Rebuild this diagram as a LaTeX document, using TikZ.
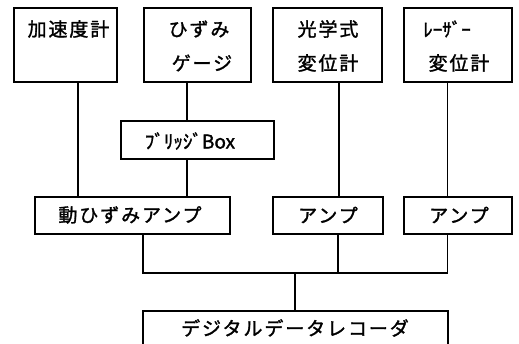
\documentclass[tikz,border=0pt]{standalone}
\usepackage{fontspec}
\newfontfamily\jp{Noto Sans CJK JP}[LetterSpace=10,FakeBold=1.5]
\newfontfamily\jpn{Noto Sans CJK JP}[FakeBold=1.5]
\begin{document}
\begin{tikzpicture}[x=1pt,y=-1pt,
  box/.style={draw,line width=1.2pt,rectangle,inner sep=0pt},
  lbl/.style={font=\fontsize{19}{19}\selectfont\jp,inner sep=0pt,anchor=center},
  lbln/.style={font=\fontsize{19}{19}\selectfont\jpn,inner sep=0pt,anchor=center},
  wire/.style={line width=1.2pt}]
\useasboundingbox (0,0) rectangle (519,344);
\clip (0,0) rectangle (519,344);
% boxes
\node[box,minimum width=103pt,minimum height=74pt] (b1) at (65.5,45) {};
\node[box,minimum width=107pt,minimum height=74pt] (b2) at (197.5,45) {};
\node[box,minimum width=109pt,minimum height=74pt] (b3) at (327.5,45) {};
\node[box,minimum width=108pt,minimum height=74pt] (b4) at (458,45) {};
\node[box,minimum width=153pt,minimum height=38pt] (br) at (197.5,140) {};
\node[box,minimum width=195pt,minimum height=37pt] (a1) at (132.5,215.5) {};
\node[box,minimum width=110pt,minimum height=37pt] (a2) at (328,215.5) {};
\node[box,minimum width=108pt,minimum height=37pt] (a3) at (458,215.5) {};
\node[box,minimum width=305pt,minimum height=50pt] (rec) at (295.5,336) {};
% labels
\node[lbl] (t1) at (68.5,29) {加速度計};
\node[lbl] (t2a) at (199,29) {ひずみ};
\node[lbl] (t2b) at (202,63) {ゲージ};
\node[lbl] (t3a) at (328,29) {光学式};
\node[lbl] (t3b) at (328,63) {変位計};
\node[lbln] (t4a) at (447,29) {ﾚｰｻﾞｰ};
\node[lbl] (t4b) at (459,63) {変位計};
\node[lbln] (tbr) at (190,141) {ﾌﾞﾘｯｼﾞBox};
\node[lbl] (ta1) at (130,215) {動ひずみアンプ};
\node[lbl] (ta2) at (328,215) {アンプ};
\node[lbl] (ta3) at (459,215) {アンプ};
\node[lbl] (trec) at (295,328) {デジタルデータレコーダ};
% x positions of wires
\coordinate (x1) at (78,0);
\coordinate (x2) at (187,0);
\coordinate (x3) at (339,0);
\coordinate (x4) at (447.5,0);
\coordinate (xa1) at (143,0);
\coordinate (xa2) at (338,0);
\coordinate (xr) at (295,0);
\coordinate (bus) at (0,273);
% wires
\draw[wire] (b1.south -| x1) -- (a1.north -| x1);
\draw[wire] (b2.south -| x2) -- (br.north -| x2);
\draw[wire] (br.south -| x2) -- (a1.north -| x2);
\draw[wire] (b3.south -| x3) -- (a2.north -| x3);
\draw[wire] (b4.south -| x4) -- (a3.north -| x4);
\draw[wire] (a1.south -| xa1) |- (bus -| x4) -- (a3.south -| x4);
\draw[wire] (a2.south -| xa2) -- (bus -| xa2);
\draw[wire] (bus -| xr) -- (rec.north -| xr);
\end{tikzpicture}
\end{document}
